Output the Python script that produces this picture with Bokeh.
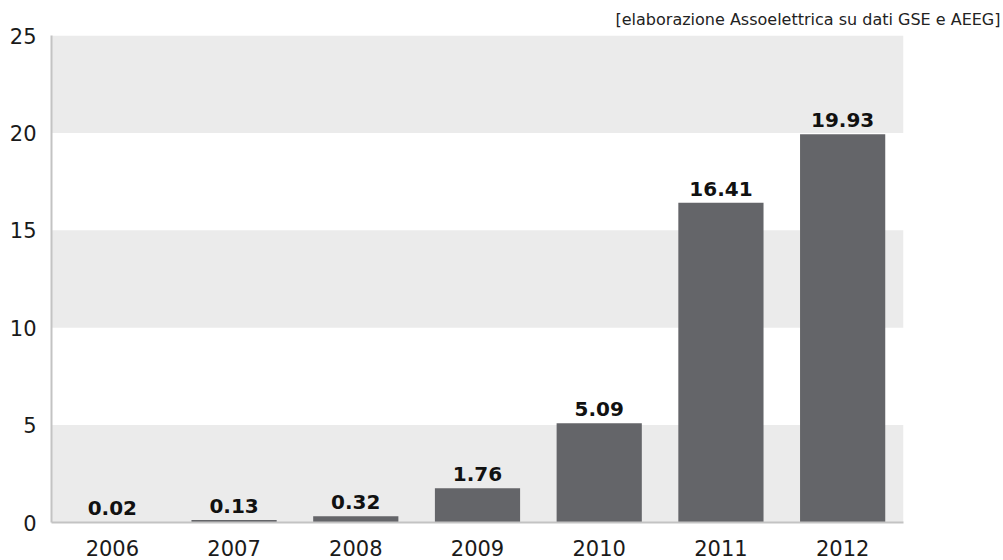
from bokeh.plotting import figure
from bokeh.models import ColumnDataSource, LabelSet, BoxAnnotation, Title, FixedTicker, FactorRange, Range1d
from bokeh.core.properties import value
from bokeh.embed import file_html
from bokeh.resources import INLINE

years = ["2006", "2007", "2008", "2009", "2010", "2011", "2012"]
values = [0.02, 0.13, 0.32, 1.76, 5.09, 16.41, 19.93]
value_labels = ["0.02", "0.13", "0.32", "1.76", "5.09", "16.41", "19.93"]
y_ticks = [0, 5, 10, 15, 20, 25]
band_bottoms = [0, 10, 20]
band_tops = [5, 15, 25]
source_note = "[elaborazione Assoelettrica su dati GSE e AEEG]"

FONT = "DejaVu Sans"

p = figure(x_range=FactorRange(*years, range_padding=0), y_range=Range1d(0, 25),
           width=1003, height=560, output_backend="svg", toolbar_location=None,
           min_border_left=51, min_border_right=100, min_border_top=34, min_border_bottom=38)
p.outline_line_color = None
p.grid.visible = False
p.background_fill_color = "white"

for b, t in zip(band_bottoms, band_tops):
    p.add_layout(BoxAnnotation(bottom=b, top=t, fill_color="#ebebeb", fill_alpha=1,
                               line_color=None, level="underlay"))

src = ColumnDataSource(dict(x=years, top=values, label=value_labels))
p.vbar(x="x", top="top", width=0.7, source=src, fill_color="#646569", line_color=None)

p.add_layout(LabelSet(x="x", y="top", text="label", source=src, text_align="center",
                      text_baseline="alphabetic", y_offset=7, text_font=value(FONT),
                      text_font_style="bold", text_font_size="20px", text_color="#111111"))

p.add_layout(Title(text=source_note, align="right", offset=-97, standoff=14,
                   text_font=FONT, text_font_size="16px", text_font_style="normal",
                   text_color="#222222"), "above")

for ax in (p.xaxis[0], p.yaxis[0]):
    ax.major_tick_line_color = None
    ax.minor_tick_line_color = None
    ax.axis_line_color = "#c3c3c3"
    ax.axis_line_width = 2
    ax.major_label_text_font = FONT
    ax.major_label_text_font_size = "21px"
    ax.major_label_text_color = "#1a1a1a"

p.yaxis.ticker = FixedTicker(ticks=y_ticks)
p.yaxis.major_label_standoff = 9
p.xaxis.major_label_standoff = 11

open("out.html", "w").write(file_html(p, INLINE))
